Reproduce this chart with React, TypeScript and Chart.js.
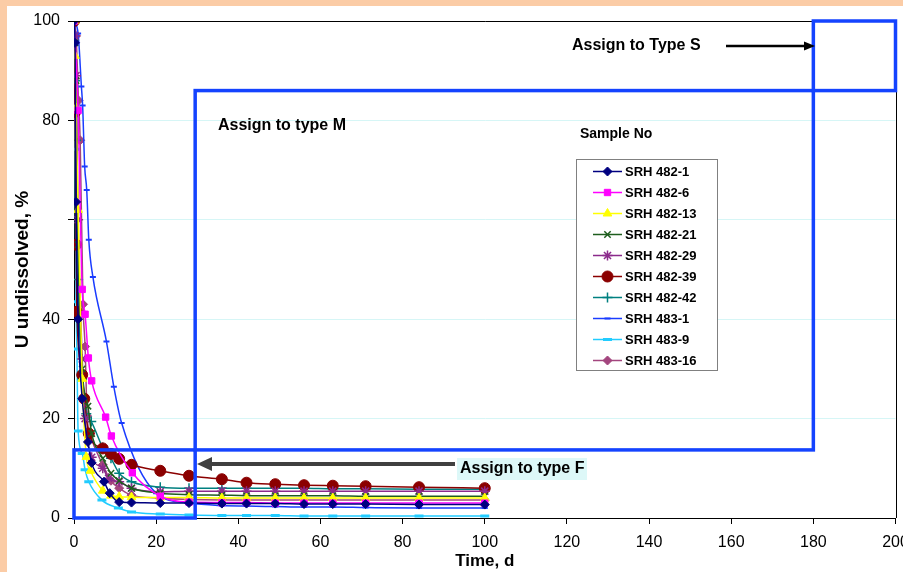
import React, { useEffect, useRef } from "react";
import { Chart, registerables } from "chart.js";
import { drawPoint } from "chart.js/helpers";

Chart.register(...registerables);

// ---------- data ----------
const T_482_1 = [0, 0.25, 0.5, 1, 2, 3.4, 4.3, 7.3, 8.7, 11, 14, 21, 28, 36, 42, 49, 56, 63, 71, 84, 100];
const U_482_1 = [100, 95.6, 63.6, 40, 24, 15.3, 11.1, 7.3, 5.0, 3.2, 3.1, 3.0, 3.0, 2.9, 2.9, 2.9, 2.8, 2.8, 2.8, 2.7, 2.7];

const T_482_6 = [0, 1, 2, 2.7, 3.5, 4.3, 7.7, 9.1, 14.2, 21, 28, 36, 42, 49, 56, 63, 71, 84, 100];
const U_482_6 = [100, 82, 46, 41, 32.2, 27.6, 20.3, 16.5, 9.1, 4.4, 3.2, 3.1, 3.1, 3.0, 3.0, 3.0, 3.0, 3.0, 3.0];

const T_482_13 = [0, 0.25, 0.5, 1, 2, 3, 4, 7, 9, 11, 14, 21, 28, 36, 42, 49, 56, 63, 71, 84, 100];
const U_482_13 = [100, 93, 82.5, 62, 28, 12.3, 9.5, 5.5, 4.5, 4.3, 4.2, 4.1, 4.1, 4.0, 4.0, 4.0, 4.0, 4.0, 4.0, 4.0, 4.0];

const T_482_21 = [0, 0.25, 0.5, 1, 2, 3.4, 4.3, 7, 9, 11, 14, 21, 28, 36, 42, 49, 56, 63, 71, 84, 100];
const U_482_21 = [100, 95.6, 88, 55, 30, 22.5, 17, 12, 9, 7.5, 6, 5.0, 4.7, 4.6, 4.5, 4.5, 4.5, 4.5, 4.4, 4.4, 4.4];

const T_482_29 = [0, 0.25, 0.5, 1, 2, 2.7, 4.3, 7, 8.4, 11, 14, 21, 28, 36, 42, 49, 56, 63, 71, 84, 100];
const U_482_29 = [100, 97, 89, 60, 32, 20, 12.2, 10, 8, 7.3, 6, 5.3, 5.4, 5.4, 5.4, 5.4, 5.4, 5.4, 5.4, 5.4, 5.4];

const T_482_39 = [0, 0.25, 0.5, 0.7, 2, 2.5, 3.6, 7, 9, 11, 14, 21, 28, 36, 42, 49, 56, 63, 71, 84, 100];
const U_482_39 = [100, 81.7, 55, 41.5, 28.8, 24, 17, 14, 12.9, 11.9, 10.7, 9.5, 8.5, 7.8, 7.1, 6.8, 6.6, 6.5, 6.4, 6.2, 6.0];

const T_482_42 = [0, 0.25, 0.5, 1, 2, 3, 4.2, 7, 9, 11, 14, 21, 28, 36, 42, 49, 56, 63, 71, 84, 100];
const U_482_42 = [100, 88, 76, 48, 28, 21, 19.4, 14.2, 12, 9, 7.3, 6.2, 6.0, 6.0, 6.0, 6.0, 6.0, 5.9, 5.9, 5.8, 5.8];

const T_483_1 = [0, 1, 1.8, 2.1, 2.6, 3.1, 3.6, 4.6, 7.9, 9.7, 11.6, 20, 28, 36, 42, 49, 56, 63, 71, 84, 100];
const U_483_1 = [100, 97.5, 86.8, 83, 70.7, 66, 56, 48.5, 35.5, 26.4, 19.1, 5, 3.0, 2.5, 2.4, 2.3, 2.2, 2.2, 2.1, 2.0, 2.0];

const T_483_9 = [0, 0.25, 0.5, 0.7, 1, 2, 2.7, 3.6, 6.8, 10.8, 14, 21, 28, 36, 42, 49, 56, 63, 71, 84, 100];
const U_483_9 = [100, 74.2, 43.5, 34, 17.5, 13, 9.7, 7.3, 3.6, 2.0, 1.2, 0.8, 0.6, 0.5, 0.5, 0.5, 0.4, 0.4, 0.4, 0.4, 0.4];

const T_483_16 = [0, 0.5, 1.1, 1.5, 2.2, 2.7, 3.2, 3.9, 7, 9, 11, 14, 21, 28, 36, 42, 49, 56, 63, 71, 84, 100];
const U_483_16 = [100, 97, 84, 76, 43, 34.5, 20.5, 17, 10.7, 7.5, 6, 4.6, 4.0, 3.7, 3.6, 3.6, 3.6, 3.6, 3.6, 3.6, 3.6, 3.6];

const SERIES_NAMES = ["SRH 482-1", "SRH 482-6", "SRH 482-13", "SRH 482-21", "SRH 482-29", "SRH 482-39", "SRH 482-42", "SRH 483-1", "SRH 483-9", "SRH 483-16"];
const SERIES_T = [T_482_1, T_482_6, T_482_13, T_482_21, T_482_29, T_482_39, T_482_42, T_483_1, T_483_9, T_483_16];
const SERIES_U = [U_482_1, U_482_6, U_482_13, U_482_21, U_482_29, U_482_39, U_482_42, U_483_1, U_483_9, U_483_16];

const X_TICK_STEP = 20;
const Y_TICK_STEP = 20;
// y tick labels as shown in the source (60 is not labelled there)
const Y_TICK_LABELS: Record<number, string> = { 0: "0", 20: "20", 40: "40", 60: "", 80: "80", 100: "100" };

// classification boxes (data units)
const BOX_F = { x0: 0, x1: 29.5, y0: 0, y1: 13.7 };
const BOX_M = { x0: 29.5, x1: 180, y0: 13.7, y1: 86 };
const BOX_S = { x0: 180, x1: 200, y0: 86, y1: 100 };

// ---------- styles ----------
const FONT = "'Liberation Sans', Arial, sans-serif";
const COLORS = ["#000080", "#FF00FF", "#FFFF00", "#1E5E1E", "#8B2A8B", "#8B0000", "#008080", "#1A3CFF", "#22CCFF", "#A3457E"];
const POINT_STYLES = ["rectRot", "rect", "triangle", "crossRot", "star", "circle", "cross", "line", "line", "rectRot"];
const POINT_RADII = [4.5, 4.5, 5, 4.5, 5, 5.5, 5, 3, 4.5, 4.5];
const POINT_BW = [1, 1, 1, 1.5, 1.5, 1, 1.5, 2, 3, 1];

const bgPlugin = {
  id: "bg",
  beforeDraw(chart: any) {
    const { ctx, width, height } = chart;
    ctx.save();
    ctx.fillStyle = "#FBCCA6";
    ctx.fillRect(0, 0, width, height);
    ctx.fillStyle = "#FFFFFF";
    ctx.fillRect(7, 6, width - 7, height - 6);
    ctx.restore();
  },
};

function arrow(ctx: any, x0: number, y: number, x1: number, lw: number, headLen: number, headHalf: number, color: string) {
  const dir = Math.sign(x1 - x0);
  ctx.save();
  ctx.strokeStyle = color;
  ctx.fillStyle = color;
  ctx.lineWidth = lw;
  ctx.beginPath();
  ctx.moveTo(x0, y);
  ctx.lineTo(x1 - dir * headLen * 0.8, y);
  ctx.stroke();
  ctx.beginPath();
  ctx.moveTo(x1, y);
  ctx.lineTo(x1 - dir * headLen, y - headHalf);
  ctx.lineTo(x1 - dir * headLen, y + headHalf);
  ctx.closePath();
  ctx.fill();
  ctx.restore();
}

const annotPlugin = {
  id: "annot",
  afterDatasetsDraw(chart: any) {
    const { ctx, chartArea: ca, scales } = chart;
    const xs = scales.x;
    const ys = scales.y;
    // frame
    ctx.save();
    ctx.strokeStyle = "#000";
    ctx.lineWidth = 1;
    ctx.beginPath();
    ctx.moveTo(ca.left, Math.round(ca.top) + 0.5);
    ctx.lineTo(Math.round(ca.right) + 0.5, Math.round(ca.top) + 0.5);
    ctx.lineTo(Math.round(ca.right) + 0.5, ca.bottom);
    ctx.stroke();
    ctx.restore();

    // blue boxes
    ctx.save();
    ctx.strokeStyle = "#1443FF";
    ctx.lineWidth = 3.5;
    for (const b of [BOX_F, BOX_M, BOX_S]) {
      const l = xs.getPixelForValue(b.x0);
      const r = xs.getPixelForValue(b.x1);
      const t = ys.getPixelForValue(b.y1);
      const bt = ys.getPixelForValue(b.y0);
      ctx.strokeRect(l, t, r - l, bt - t);
    }
    ctx.restore();

    // texts
    ctx.save();
    ctx.fillStyle = "#000";
    ctx.textBaseline = "middle";
    ctx.textAlign = "left";
    ctx.font = `bold 16px ${FONT}`;
    ctx.fillText("Assign to Type S", 572, 46);
    ctx.fillText("Assign to type M", 218, 126);
    ctx.font = `bold 14px ${FONT}`;
    ctx.fillText("Sample No", 580, 134);

    // F label with bg
    ctx.font = `bold 16px ${FONT}`;
    ctx.fillStyle = "#DDF8F8";
    ctx.fillRect(457, 458, 130, 22);
    ctx.fillStyle = "#000";
    ctx.fillText("Assign to type F", 460, 469);
    ctx.restore();

    arrow(ctx, 726, 46, 815, 2.5, 11, 4.5, "#000");
    arrow(ctx, 455, 464, 197, 4, 15, 7, "#404040");

    // legend
    ctx.save();
    const lx = 576, ly = 159, lw = 141, lh = 211;
    ctx.fillStyle = "#fff";
    ctx.fillRect(lx, ly, lw, lh);
    ctx.strokeStyle = "#808080";
    ctx.lineWidth = 1;
    ctx.strokeRect(lx + 0.5, ly + 0.5, lw, lh);
    ctx.font = `bold 13px ${FONT}`;
    ctx.textBaseline = "middle";
    SERIES_NAMES.forEach((name, i) => {
      const y = 171.5 + i * 21;
      ctx.strokeStyle = COLORS[i];
      ctx.fillStyle = COLORS[i];
      ctx.lineWidth = 1.5;
      ctx.beginPath();
      ctx.moveTo(593, y);
      ctx.lineTo(622, y);
      ctx.stroke();
      ctx.lineWidth = POINT_BW[i];
      drawPoint(ctx, { pointStyle: POINT_STYLES[i], radius: POINT_RADII[i], rotation: 0, borderWidth: POINT_BW[i] } as any, 607.5, y);
      ctx.fillStyle = "#000";
      ctx.fillText(name, 625, y + 0.5);
    });
    ctx.restore();
  },
};

export default function App() {
  const ref = useRef<HTMLCanvasElement | null>(null);
  useEffect(() => {
    if (!ref.current) return;
    const datasets = SERIES_NAMES.map((name, i) => ({
      label: name,
      data: SERIES_T[i].map((t, j) => ({ x: t, y: SERIES_U[i][j] })),
      borderColor: COLORS[i],
      backgroundColor: COLORS[i],
      borderWidth: 1.5,
      pointStyle: POINT_STYLES[i],
      pointRadius: POINT_RADII[i],
      pointBorderWidth: POINT_BW[i],
      pointBackgroundColor: COLORS[i],
      pointBorderColor: COLORS[i],
      cubicInterpolationMode: "monotone" as const,
      fill: false,
    }));
    const chart = new Chart(ref.current, {
      type: "line",
      data: { datasets },
      plugins: [bgPlugin, annotPlugin],
      options: {
        animation: false,
        responsive: false,
        devicePixelRatio: 1,
        layout: { padding: { top: 21, right: 3, left: 0, bottom: 0 } },
        plugins: { legend: { display: false }, tooltip: { enabled: false } },
        scales: {
          x: {
            type: "linear",
            min: 0,
            max: 200,
            ticks: { stepSize: X_TICK_STEP, color: "#000", font: { family: FONT, size: 16 }, padding: 9, maxRotation: 0, autoSkip: false },
            grid: { drawOnChartArea: false, drawTicks: true, tickLength: 6, tickColor: "#000" },
            border: { color: "#000", width: 1 },
            title: { display: true, text: "Time, d", color: "#000", font: { family: FONT, size: 17, weight: "bold" }, padding: 0 },
            afterFit: (s: any) => {
              s.height = 54;
              s.paddingLeft = 0;
              s.paddingRight = 0;
            },
          },
          y: {
            min: 0,
            max: 100,
            ticks: {
              stepSize: Y_TICK_STEP,
              color: "#000",
              font: { family: FONT, size: 16 },
              padding: 8,
              callback: (v: any) => (Y_TICK_LABELS[v] !== undefined ? Y_TICK_LABELS[v] : String(v)),
            },
            grid: { color: "#D6F6F6", tickLength: 6, tickColor: "#000" },
            border: { color: "#000", width: 1 },
            title: { display: true, text: "U undissolved, %", color: "#000", font: { family: FONT, size: 19, weight: "bold" }, padding: { top: 11, bottom: 0 } },
            afterFit: (s: any) => {
              s.width = 74;
              s.paddingTop = 0;
              s.paddingBottom = 0;
            },
          },
        },
      } as any,
    });
    return () => chart.destroy();
  }, []);
  return (
    <div style={{ position: "fixed", left: 0, top: 0, width: 903, height: 572, overflow: "hidden" }}>
      <canvas ref={ref} width={903} height={572} style={{ width: 903, height: 572, display: "block" }} />
    </div>
  );
}
